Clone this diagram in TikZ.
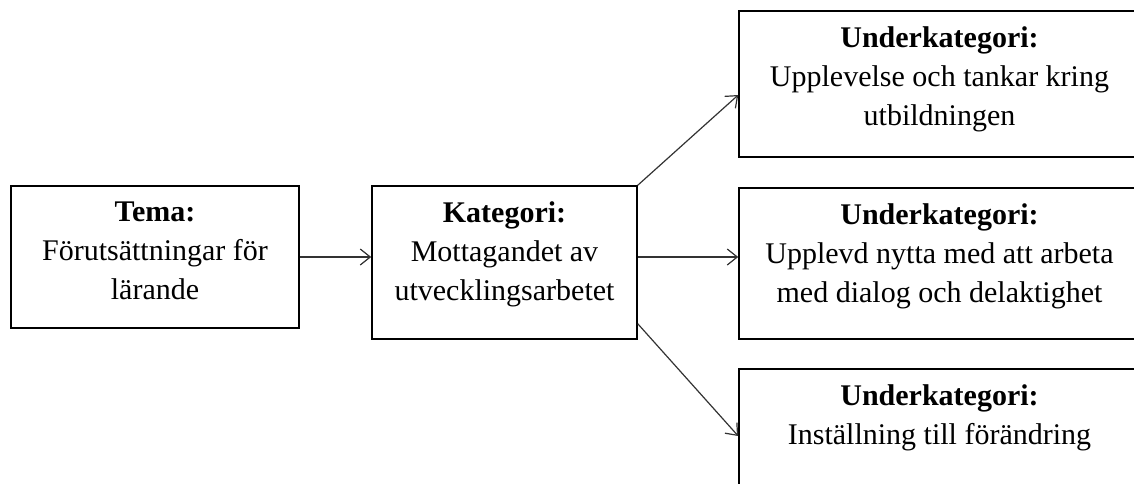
\documentclass[tikz,border=0pt]{standalone}
\usepackage{fontspec}
\setmainfont{Liberation Serif}
\usepackage{tikz}
\usetikzlibrary{positioning, arrows.meta}

\begin{document}
\begin{tikzpicture}[x=0.5pt, y=-0.5pt,
        box/.style={draw, line width=0.8pt, inner sep=0pt},
        txt/.style={align=center, inner sep=0pt, font=\fontsize{15}{19.5}\selectfont},
        pil/.style={-{Straight Barb[length=5pt, width=8pt]}, line width=0.6pt, black!80}]
        \clip (0,0) rectangle (1134,483);
        \node[box, minimum width=144pt, minimum height=71pt] (tema) at (155,257) {};
        \node[box, minimum width=132.5pt, minimum height=76.5pt] (kat) at (504.5,262.5) {};
        \node[box, minimum width=200.5pt, minimum height=73pt] (sub1) at (939.5,84) {};
        \node[box, minimum width=200.5pt, minimum height=75.5pt] (sub2) at (939.5,263.5) {};
        \node[box, minimum width=200.5pt, minimum height=67pt] (sub3) at (939.5,436) {};
        \node[txt, below=8pt of tema.north] (temaText) {\textbf{Tema:}\\Förutsättningar för\\lärande};
        \node[txt, below=8pt of kat.north] (katText) {\textbf{Kategori:}\\Mottagandet av\\utvecklingsarbetet};
        \node[txt, below=8pt of sub1.north] (sub1Text) {\textbf{Underkategori:}\\Upplevelse och tankar kring\\utbildningen};
        \node[txt, below=8pt of sub2.north] (sub2Text) {\textbf{Underkategori:}\\Upplevd nytta med att arbeta\\med dialog och delaktighet};
        \node[txt, below=8pt of sub3.north] (sub3Text) {\textbf{Underkategori:}\\Inställning till förändring};
        \draw[pil] (tema.east) -- (tema.east -| kat.west);
        \draw[pil] (kat.east |- tema.east) -- (sub2.west |- tema.east);
        \draw[pil] (kat.north east) -- ([yshift=-5.5pt]sub1.west);
        \draw[pil] ([yshift=8pt]kat.south east) -- (sub3.west);
\end{tikzpicture}
\end{document}
